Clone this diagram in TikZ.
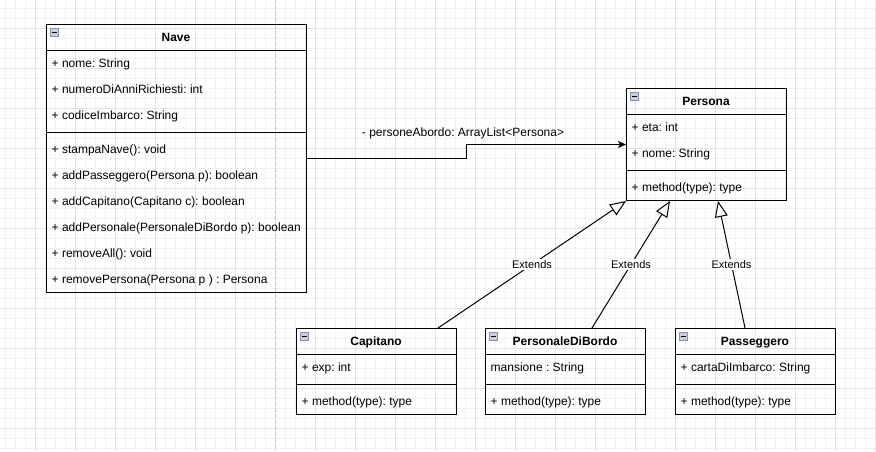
\documentclass[tikz,border=0pt]{standalone}
\usepackage{fontspec}
\setmainfont{Liberation Sans}
\frenchspacing
\usetikzlibrary{arrows.meta,calc}
\definecolor{gridminor}{HTML}{F1F1F1}
\definecolor{gridmajor}{HTML}{E3E3E3}
\definecolor{pagebreak}{HTML}{C2C2C2}
\definecolor{iconfill}{HTML}{C9CFDD}
\definecolor{iconline}{HTML}{8A92A9}
\begin{document}
\begin{tikzpicture}[x=1pt,y=-1pt,
  classbox/.style={draw=black,line width=1pt,anchor=north west,inner sep=0pt,minimum width=160pt,minimum height=86pt},
  divider/.style={draw=black,line width=1pt},
  title/.style={font=\fontsize{12}{14}\selectfont\bfseries,inner sep=0pt,anchor=base},
  member/.style={font=\fontsize{12}{14}\selectfont,inner sep=0pt,anchor=base west},
  extlabel/.style={font=\fontsize{11}{13}\selectfont,fill=white,inner sep=1pt},
  assoclabel/.style={font=\fontsize{12}{14}\selectfont,inner sep=0pt,anchor=base},
  extends/.style={draw=black,line width=1pt,-{Triangle[open,length=16pt,width=13pt,line width=1pt]}},
  assoc/.style={draw=black,line width=1pt,-{Stealth[length=8pt,width=7pt,inset=2pt]}},
  collapse/.style={draw=iconline,fill=iconfill,line width=0.8pt},
]
\useasboundingbox (0,0) rectangle (876,451);
\fill[white] (0,0) rectangle (876,451);

% background grid
\foreach \x in {5,15,...,875} \draw[gridminor,line width=0.8pt] (\x,0) -- (\x,451);
\foreach \y in {8,18,...,448} \draw[gridminor,line width=0.8pt] (0,\y) -- (876,\y);
\foreach \x in {35,75,...,875} \draw[gridmajor,line width=0.8pt] (\x,0) -- (\x,451);
\foreach \y in {28,68,...,428} \draw[gridmajor,line width=0.8pt] (0,\y) -- (876,\y);
\draw[pagebreak,line width=0.8pt,dash pattern=on 4pt off 2pt] (275.5,0) -- (275.5,451);

% ---------- Nave ----------
\node[classbox,minimum width=260pt,minimum height=268pt] (nave) at (46,24) {};
\draw[collapse] (50.5,28.5) rectangle (58.5,36.5);
\draw[black,line width=0.9pt] (52,32.5) -- (57,32.5);
\node[title] (naveT) at (176,41.2) {Nave};
\draw[divider] (46,50) -- (306,50);
\node[member] (nave1) at (51.5,67.2) {+ nome: String};
\node[member] (nave2) at (51.5,93.2) {+ numeroDiAnniRichiesti: int};
\node[member] (nave3) at (51.5,119.2) {+ codiceImbarco: String};
\draw[divider] (46,132) -- (306,132);
\node[member] (nave4) at (51.5,153.2) {+ stampaNave(): void};
\node[member] (nave5) at (51.5,179.2) {+ addPasseggero(Persona p): boolean};
\node[member] (nave6) at (51.5,205.2) {+ addCapitano(Capitano c): boolean};
\node[member] (nave7) at (51.5,231.2) {+ addPersonale(PersonaleDiBordo p): boolean};
\node[member] (nave8) at (51.5,257.2) {+ removeAll(): void};
\node[member] (nave9) at (51.5,283.2) {+ removePersona(Persona p ) : Persona};

% ---------- Persona ----------
\node[classbox,minimum height=112pt] (persona) at (626,88) {};
\draw[collapse] (630.5,92.5) rectangle (638.5,100.5);
\draw[black,line width=0.9pt] (632,96.5) -- (637,96.5);
\node[title] (personaT) at (706,105.2) {Persona};
\draw[divider] (626,114) -- (786,114);
\node[member] (persona1) at (631.5,131.2) {+ eta: int};
\node[member] (persona2) at (631.5,157.2) {+ nome: String};
\draw[divider] (626,170) -- (786,170);
\node[member] (persona3) at (631.5,191.2) {+ method(type): type};

% ---------- Capitano ----------
\node[classbox] (capitano) at (296,328) {};
\draw[collapse] (300.5,332.5) rectangle (308.5,340.5);
\draw[black,line width=0.9pt] (302,336.5) -- (307,336.5);
\node[title] (capitanoT) at (376,345.2) {Capitano};
\draw[divider] (296,354) -- (456,354);
\node[member] (capitano1) at (301.5,371.2) {+ exp: int};
\draw[divider] (296,384) -- (456,384);
\node[member] (capitano2) at (301.5,405.2) {+ method(type): type};

% ---------- PersonaleDiBordo ----------
\node[classbox] (personale) at (485,328) {};
\draw[collapse] (489.5,332.5) rectangle (497.5,340.5);
\draw[black,line width=0.9pt] (491,336.5) -- (496,336.5);
\node[title] (personaleT) at (565,345.2) {PersonaleDiBordo};
\draw[divider] (485,354) -- (645,354);
\node[member] (personale1) at (490.5,371.2) {mansione : String};
\draw[divider] (485,384) -- (645,384);
\node[member] (personale2) at (490.5,405.2) {+ method(type): type};

% ---------- Passeggero ----------
\node[classbox] (passeggero) at (675,328) {};
\draw[collapse] (679.5,332.5) rectangle (687.5,340.5);
\draw[black,line width=0.9pt] (681,336.5) -- (686,336.5);
\node[title] (passeggeroT) at (755,345.2) {Passeggero};
\draw[divider] (675,354) -- (835,354);
\node[member] (passeggero1) at (680.5,371.2) {+ cartaDiImbarco: String};
\draw[divider] (675,384) -- (835,384);
\node[member] (passeggero2) at (680.5,405.2) {+ method(type): type};

% ---------- association ----------
\coordinate (bend) at ($(nave.east)!0.5!(persona.west)$);
\draw[assoc] (nave.east) -| (bend) |- (persona.west);
\node[assoclabel] (assocT) at (463,136.7) {- personeAbordo: ArrayList<Persona>};

% ---------- generalisations ----------
\draw[extends] ($(capitano.north west)+(142,0)$) -- node[extlabel] (ext1) {Extends} (persona.south west);
\draw[extends] ($(personale.north west)+(107,0)$) -- node[extlabel] (ext2) {Extends} ($(persona.south west)+(44,0)$);
\draw[extends] ($(passeggero.north west)+(70,0)$) -- node[extlabel] (ext3) {Extends} ($(persona.south west)+(92,0)$);
\end{tikzpicture}
\end{document}
